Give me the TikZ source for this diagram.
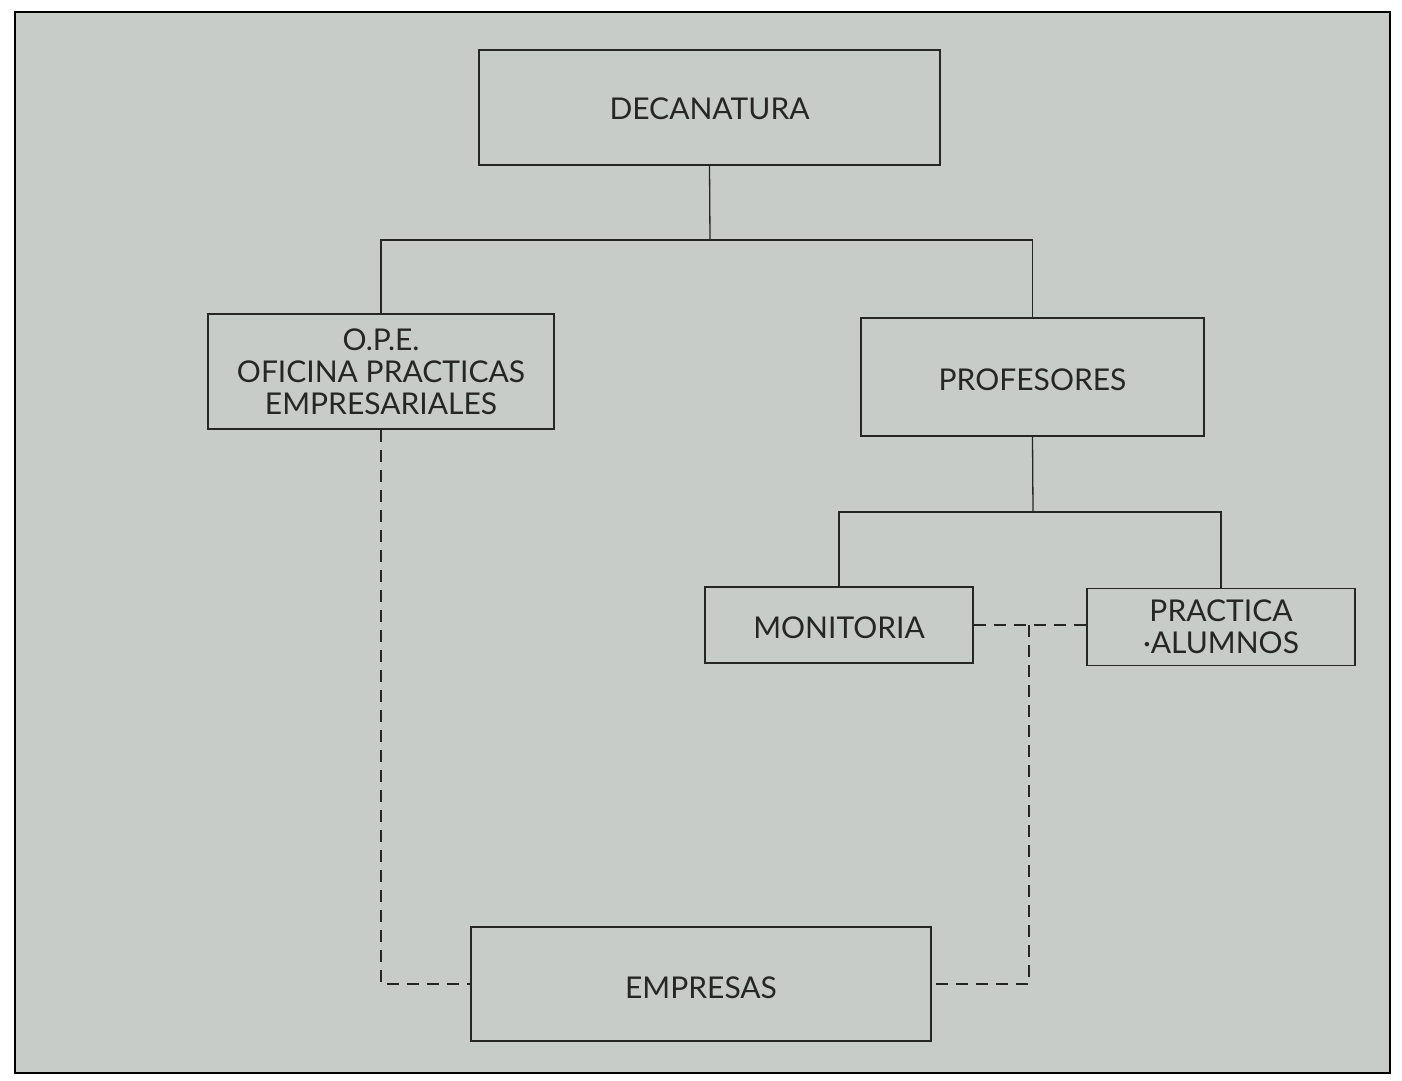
\documentclass[tikz,border=0pt]{standalone}
\usepackage{fontspec}
\setmainfont{Lato}
\begin{document}
\begin{tikzpicture}[x=1pt,y=-1pt,
  box/.style={draw=black!85, line width=1.4pt, fill=none, inner sep=0pt, align=center,
    font=\fontsize{30}{32}\selectfont, text=black!85},
  lower/.style={text height=#1, text depth=0pt},
  link/.style={draw=black!85, line width=1.3pt},
  dlink/.style={draw=black!85, line width=1.3pt, dash pattern=on 12pt off 8pt}]
\useasboundingbox (0,0) rectangle (1402,1080);
\fill[white] (0,0) rectangle (1402,1080);
\draw[line width=2.2pt, fill={rgb,255:red,200;green,204;blue,200}] (15,12) rectangle (1390,1073);
\node[box, lower=24pt, minimum width=461pt, minimum height=115pt] (dec) at (709.5,107.5) {DECANATURA};
\node[box, minimum width=346pt, minimum height=115pt] (ope) at (381,371.5) {O.P.E.\\OFICINA PRACTICAS\\EMPRESARIALES};
\node[box, lower=27pt, minimum width=343pt, minimum height=118pt] (prof) at (1032.5,377) {PROFESORES};
\node[box, lower=26pt, minimum width=268pt, minimum height=76pt] (mon) at (839,625) {MONITORIA};
\node[box, minimum width=268pt, minimum height=77pt] (pra) at (1221,627) {PRACTICA\\\textperiodcentered ALUMNOS};
\node[box, lower=28pt, minimum width=460pt, minimum height=114pt] (emp) at (701,984) {EMPRESAS};
\coordinate (j1) at (710,240);
\coordinate (j2) at (1033,512);
\coordinate (d1) at (1029,625);
\draw[link] (dec.south) -- (j1);
\draw[link] (j1) -| (ope.north);
\draw[link] (j1) -| (prof.north);
\draw[link] (prof.south) -- (j2);
\draw[link] (j2) -| (mon.north);
\draw[link] (j2) -| (pra.north);
\draw[dlink] (ope.south) |- (emp.west);
\draw[dlink] (mon.east) -- (mon.east -| pra.west);
\draw[dlink] (d1) |- (emp.east);
\end{tikzpicture}
\end{document}
